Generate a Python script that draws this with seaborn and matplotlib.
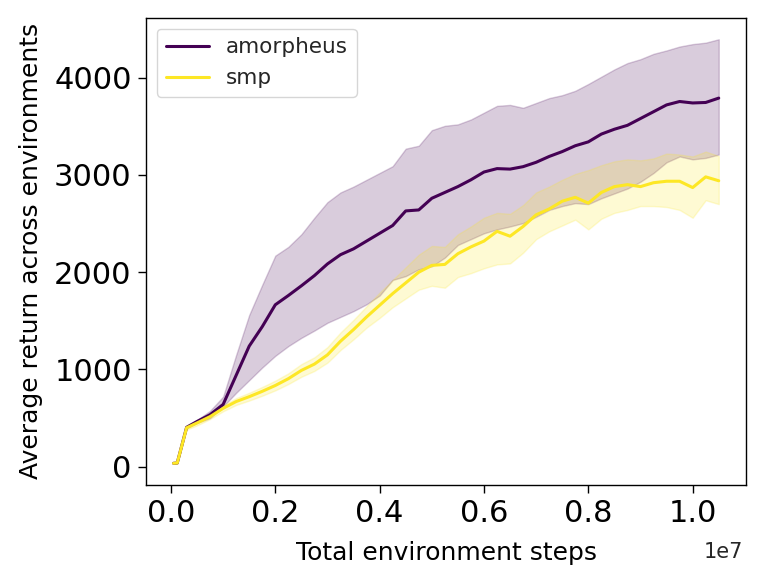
import matplotlib
matplotlib.use("Agg")
import matplotlib.pyplot as plt
from matplotlib.ticker import FuncFormatter
import seaborn as sns
import numpy as np
import pandas as pd

# x positions in units of 1e7 environment steps
steps = [0.005, 0.012, 0.03, 0.05, 0.075, 0.10, 0.125, 0.15, 0.175, 0.20, 0.225, 0.25,
         0.275, 0.30, 0.325, 0.35, 0.375, 0.40, 0.425, 0.45, 0.475, 0.50, 0.525, 0.55,
         0.575, 0.60, 0.625, 0.65, 0.675, 0.70, 0.725, 0.75, 0.775, 0.80, 0.825, 0.85,
         0.875, 0.90, 0.925, 0.95, 0.975, 1.00, 1.025, 1.05]

amorpheus_mean = [35, 38, 405, 465, 535, 640, 940, 1240, 1440, 1665, 1760, 1860,
                  1965, 2085, 2180, 2240, 2320, 2400, 2480, 2630, 2640, 2760, 2820, 2880,
                  2950, 3030, 3065, 3060, 3085, 3130, 3190, 3240, 3300, 3340, 3420, 3470,
                  3510, 3580, 3650, 3720, 3755, 3740, 3745, 3790]
amorpheus_upper = [35, 40, 410, 480, 575, 720, 1150, 1560, 1870, 2170, 2260, 2390,
                   2560, 2720, 2820, 2880, 2950, 3020, 3090, 3270, 3300, 3460, 3505, 3520,
                   3570, 3640, 3710, 3720, 3690, 3740, 3790, 3820, 3865, 3935, 4010, 4085,
                   4150, 4190, 4245, 4280, 4320, 4345, 4360, 4395]
amorpheus_lower = [35, 36, 395, 450, 500, 620, 760, 890, 1020, 1140, 1240, 1325,
                   1400, 1480, 1540, 1600, 1670, 1760, 1920, 1960, 2030, 2060, 2150, 2280,
                   2340, 2400, 2440, 2470, 2505, 2570, 2640, 2680, 2710, 2700, 2760, 2810,
                   2860, 2930, 3020, 3130, 3190, 3160, 3175, 3210]

smp_mean = [35, 38, 400, 450, 515, 600, 670, 720, 775, 835, 905, 990,
            1055, 1150, 1290, 1410, 1540, 1660, 1780, 1890, 2000, 2070, 2080, 2190,
            2260, 2320, 2420, 2370, 2470, 2590, 2650, 2730, 2770, 2710, 2820, 2880,
            2900, 2880, 2920, 2935, 2935, 2870, 2980, 2940]
smp_upper = [38, 42, 420, 475, 540, 630, 705, 760, 820, 885, 960, 1055,
             1125, 1230, 1380, 1510, 1650, 1790, 1920, 2050, 2180, 2270, 2260, 2390,
             2470, 2560, 2610, 2600, 2690, 2820, 2880, 2950, 3010, 3050, 3100, 3140,
             3160, 3150, 3170, 3220, 3210, 3190, 3240, 3195]
smp_lower = [32, 34, 380, 425, 490, 570, 635, 680, 730, 785, 850, 925,
             985, 1070, 1200, 1310, 1430, 1530, 1640, 1730, 1820, 1860, 1840, 1950,
             1990, 2040, 2080, 2090, 2200, 2340, 2420, 2480, 2540, 2440, 2550, 2610,
             2640, 2680, 2680, 2670, 2640, 2560, 2740, 2700]

methods = ["amorpheus", "smp"]
colors = {"amorpheus": "#440154", "smp": "#fde725"}

x_steps = np.array(steps) * 1e7
df = pd.concat([
    pd.DataFrame({"step": x_steps, "ret": amorpheus_mean, "lo": amorpheus_lower,
                  "hi": amorpheus_upper, "method": "amorpheus"}),
    pd.DataFrame({"step": x_steps, "ret": smp_mean, "lo": smp_lower,
                  "hi": smp_upper, "method": "smp"}),
], ignore_index=True)

sns.set_style("ticks", {"axes.edgecolor": "black", "xtick.color": "black",
                        "ytick.color": "black", "axes.labelcolor": "black"})
plt.rcParams["font.family"] = ["DejaVu Sans"]

fig, ax = plt.subplots(figsize=(7.62, 5.82), dpi=100)
fig.subplots_adjust(left=0.192, right=0.979, top=0.969, bottom=0.167)

sns.lineplot(data=df, x="step", y="ret", hue="method", hue_order=methods,
             palette=colors, linewidth=2.2, ax=ax, errorbar=None)

for m in methods:
    sub = df[df["method"] == m]
    ax.fill_between(sub["step"], sub["lo"], sub["hi"], color=colors[m], alpha=0.2,
                    linewidth=1.0)

for sp in ax.spines.values():
    sp.set_linewidth(1.0)
    sp.set_color("black")

ax.tick_params(axis="both", labelsize=22, length=5.5, width=1, pad=5, colors="black")
ax.xaxis.set_major_formatter(FuncFormatter(lambda v, p: f"{v / 1e7:.1f}"))
ax.text(0.995, -0.122, "1e7", transform=ax.transAxes, ha="right", va="top", fontsize=15)
ax.set_xlabel("Total environment steps", fontsize=18, labelpad=9)
ax.set_ylabel("Average return across environments", fontsize=18, labelpad=8)
ax.set_yticks([0, 1000, 2000, 3000, 4000])

handles, labels = ax.get_legend_handles_labels()
leg = ax.legend(handles=handles, labels=labels, loc="upper left", fontsize=15.5,
                frameon=True, fancybox=True, framealpha=0.8, edgecolor="0.8")
for h in leg.get_lines():
    h.set_linewidth(2.2)

fig.savefig("out.png", dpi=100)
